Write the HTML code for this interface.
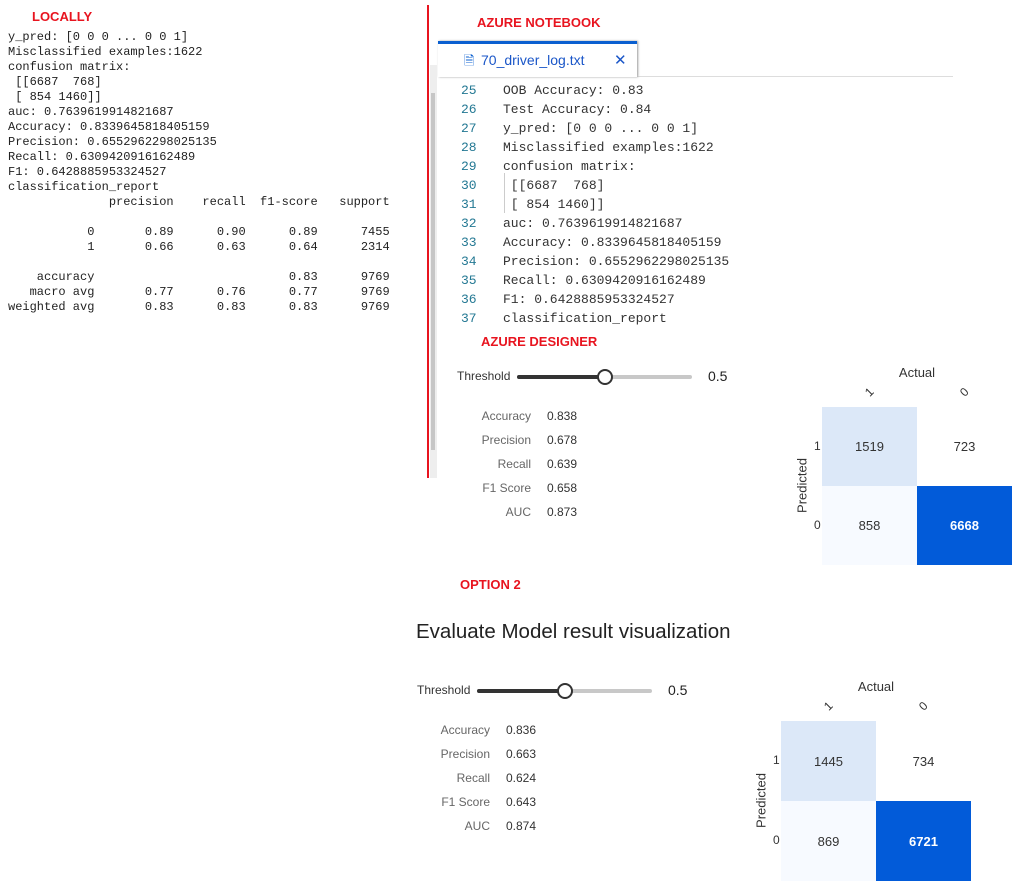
<!DOCTYPE html>
<html><head><meta charset="utf-8">
<style>
body{margin:0;width:1017px;height:892px;background:#fff;position:relative;overflow:hidden;font-family:"Liberation Sans",sans-serif;}
.abs{position:absolute;}
.red{color:#e8141f;font-weight:bold;font-size:13px;}
pre{margin:0;font-family:"Liberation Mono",monospace;}
.loc{font-size:12px;line-height:15px;color:#222;left:8px;top:30px;}
.code{font-size:13px;line-height:19px;color:#333;left:503px;top:81px;}
.nums{font-size:13px;line-height:19px;color:#237893;left:461px;top:81px;}
.lab{font-size:12px;color:#666;text-align:right;width:90px;}
.val{font-size:12px;color:#333;}
.cell{position:absolute;display:flex;align-items:center;justify-content:center;font-size:13px;color:#333;}
</style></head><body>
<div class="abs red" style="left:32px;top:9px">LOCALLY</div>
<pre class="abs loc">y_pred: [0 0 0 ... 0 0 1]
Misclassified examples:1622
confusion matrix:
 [[6687  768]
 [ 854 1460]]
auc: 0.7639619914821687
Accuracy: 0.8339645818405159
Precision: 0.6552962298025135
Recall: 0.6309420916162489
F1: 0.6428885953324527
classification_report
              precision    recall  f1-score   support

           0       0.89      0.90      0.89      7455
           1       0.66      0.63      0.64      2314

    accuracy                           0.83      9769
   macro avg       0.77      0.76      0.77      9769
weighted avg       0.83      0.83      0.83      9769</pre>

<div class="abs" style="left:427px;top:5px;width:1.5px;height:473px;background:#e8141f"></div>
<div class="abs" style="left:430px;top:65px;width:7px;height:413px;background:#eee"></div>
<div class="abs" style="left:431px;top:93px;width:4px;height:357px;background:#c6c6c6"></div>
<div class="abs red" style="left:477px;top:15px">AZURE NOTEBOOK</div>
<div class="abs" style="left:438px;top:76px;width:515px;height:1px;background:#ddd"></div>
<div class="abs" style="left:438px;top:41px;width:199px;height:36px;border-top:3px solid #0a5fd0;box-sizing:border-box;background:#fff;box-shadow:1px 0 2px #999">
<span class="abs" style="left:26px;top:8px;font-size:13px;color:#0a5fd0">&#128462;</span>
<span class="abs" style="left:43px;top:8px;font-size:14px;color:#1a56c8">70_driver_log.txt</span>
<span class="abs" style="left:176px;top:7px;font-size:15px;color:#1a56c8">✕</span></div>
<pre class="abs nums">25
26
27
28
29
30
31
32
33
34
35
36
37</pre>
<pre class="abs code">OOB Accuracy: 0.83
Test Accuracy: 0.84
y_pred: [0 0 0 ... 0 0 1]
Misclassified examples:1622
confusion matrix:
 [[6687  768]
 [ 854 1460]]
auc: 0.7639619914821687
Accuracy: 0.8339645818405159
Precision: 0.6552962298025135
Recall: 0.6309420916162489
F1: 0.6428885953324527
classification_report</pre>
<div class="abs" style="left:504px;top:173px;width:1px;height:40px;background:#ccc"></div>

<div class="abs red" style="left:481px;top:334px">AZURE DESIGNER</div>
<div class="abs red" style="left:460px;top:577px">OPTION 2</div>
<div class="abs" style="left:416px;top:620px;font-size:20.5px;color:#222">Evaluate Model result visualization</div>

<div id="p1"></div><div id="p2"></div>
<script>
const panels=[{id:'p1',tx:457,ty:377,sx:517,sw:175,lx:441,vx:547,my:417,cx:822,cy:407,cw:95,ch:79},
{id:'p2',tx:417,ty:691,sx:477,sw:175,lx:400,vx:506,my:731,cx:781,cy:721,cw:95,ch:80}];
const metricNames=['Accuracy','Precision','Recall','F1 Score','AUC'];
const metrics1=['0.838','0.678','0.639','0.658','0.873'];
const metrics2=['0.836','0.663','0.624','0.643','0.874'];
const classLabels=['1','0'];
const matrix1=[[1519,723],[858,6668]];
const matrix2=[[1445,734],[869,6721]];
const thresholds=[0.5,0.5];
const allMetrics=[metrics1,metrics2], allMatrix=[matrix1,matrix2];
function color(v,max){const t=v/max; if(t>0.6)return '#025bd9'; if(t>0.2)return '#dce8f8'; if(t<0.12&&v<740)return '#ffffff'; return '#f7faff';}
panels.forEach((p,i)=>{
 const root=document.getElementById(p.id);
 
 
 let h='';
 h+=`<div class="abs" style="left:${p.tx}px;top:${p.ty-8}px;font-size:12px;color:#333">Threshold</div>`;
 const kx=p.sx+p.sw*thresholds[i];
 h+=`<div class="abs" style="left:${p.sx}px;top:${p.ty-2}px;width:${p.sw}px;height:4px;border-radius:2px;background:#c8c8c8"></div>`;
 h+=`<div class="abs" style="left:${p.sx}px;top:${p.ty-2}px;width:${kx-p.sx}px;height:4px;border-radius:2px;background:#333"></div>`;
 h+=`<div class="abs" style="left:${kx-8}px;top:${p.ty-8}px;width:12px;height:12px;border:2px solid #333;border-radius:50%;background:#fff"></div>`;
 h+=`<div class="abs" style="left:${p.sx+p.sw+16}px;top:${p.ty-9}px;font-size:14px;color:#222">${thresholds[i]}</div>`;
 metricNames.forEach((m,j)=>{
  h+=`<div class="abs lab" style="left:${p.lx}px;top:${p.my+24*j-8}px">${m}</div>`;
  h+=`<div class="abs val" style="left:${p.vx}px;top:${p.my+24*j-8}px">${allMetrics[i][j]}</div>`;
 });
 const M=allMatrix[i]; const max=Math.max(...M.flat());
 const W=p.cw*2,H=p.ch*2;
 h+=`<div class="abs" style="left:${p.cx}px;width:${W}px;text-align:center;top:${p.cy-42}px;font-size:13px;color:#333">Actual</div>`;
 h+=`<div class="abs" style="left:${p.cx-50}px;top:${p.cy+H/2-8}px;width:60px;text-align:center;font-size:13px;color:#333;transform:rotate(-90deg)">Predicted</div>`;
 classLabels.forEach((c,j)=>{
  h+=`<div class="abs" style="left:${p.cx+p.cw*j+p.cw/2-4}px;top:${p.cy-22}px;font-size:12px;color:#333;transform:rotate(-45deg)">${c}</div>`;
  h+=`<div class="abs" style="left:${p.cx-8}px;top:${p.cy+p.ch*j+p.ch/2-8}px;font-size:12px;color:#333">${c}</div>`;
 });
 for(let r=0;r<2;r++)for(let c=0;c<2;c++){
  const v=M[r][c]; const bg=color(v,max);
  h+=`<div class="cell" style="left:${p.cx+p.cw*c}px;top:${p.cy+p.ch*r}px;width:${p.cw}px;height:${p.ch}px;background:${bg};${bg==='#025bd9'?'color:#fff;font-weight:bold;':''}">${v}</div>`;
 }
 root.innerHTML=h;
});
</script>
</body></html>
